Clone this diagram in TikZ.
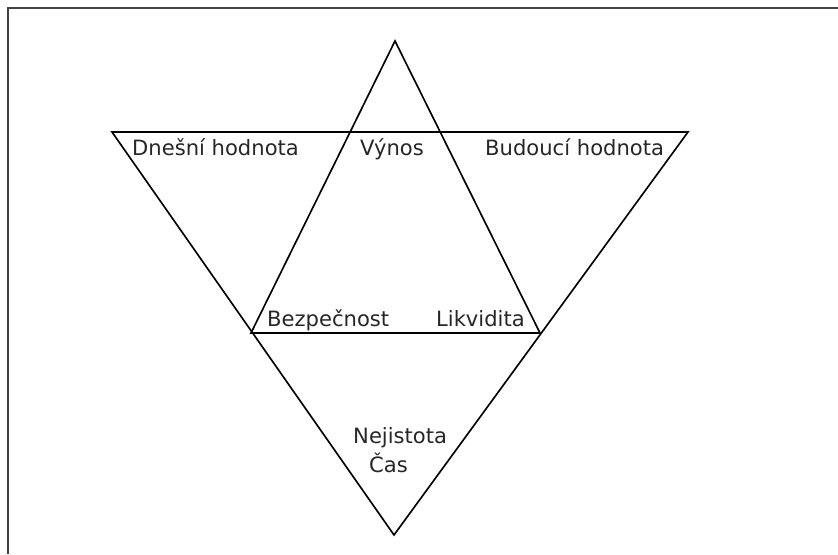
\documentclass[tikz,border=0pt]{standalone}
\usepackage{fontspec}
\setmainfont{DejaVu Sans}

\begin{document}
\begin{tikzpicture}[
  tri/.style={draw=black, line width=1.4pt, line join=miter},
  frame/.style={draw=black!75, line width=1.4pt},
  lab/.style={inner sep=0pt, text=black!85, font=\fontsize{18}{21}\selectfont}]
\useasboundingbox (0,0) rectangle (25.14,16.62);
\draw[frame] (25.14,16.38) -- (0.24,16.38) -- (0.24,0);

% triangle pointing up
\coordinate (up) at (11.85,15.39);
\coordinate (ul) at (7.53,6.63);
\coordinate (ur) at (16.2,6.63);
\draw[tri] (up) -- (ur) -- (ul) -- cycle;

% triangle pointing down
\coordinate (dl) at (3.36,12.66);
\coordinate (dr) at (20.64,12.66);
\coordinate (dn) at (11.82,0.57);
\draw[tri] (dl) -- (dr) -- (dn) -- cycle;

\node[lab, anchor=base west] (dnes) at (3.96,11.94) {Dnešní hodnota};
\node[lab, anchor=base] (vynos) at (11.76,11.94) {Výnos};
\node[lab, anchor=base west] (budouci) at (14.55,11.94) {Budoucí hodnota};
\node[lab, anchor=base west] (bezp) at (8.01,6.81) {Bezpečnost};
\node[lab, anchor=base east] (likv) at (15.75,6.81) {Likvidita};
\node[lab, anchor=base west] (nejist) at (10.59,3.33) {Nejistota};
\node[lab, anchor=base west] (cas) at (11.07,2.46) {Čas};
\end{tikzpicture}
\end{document}
